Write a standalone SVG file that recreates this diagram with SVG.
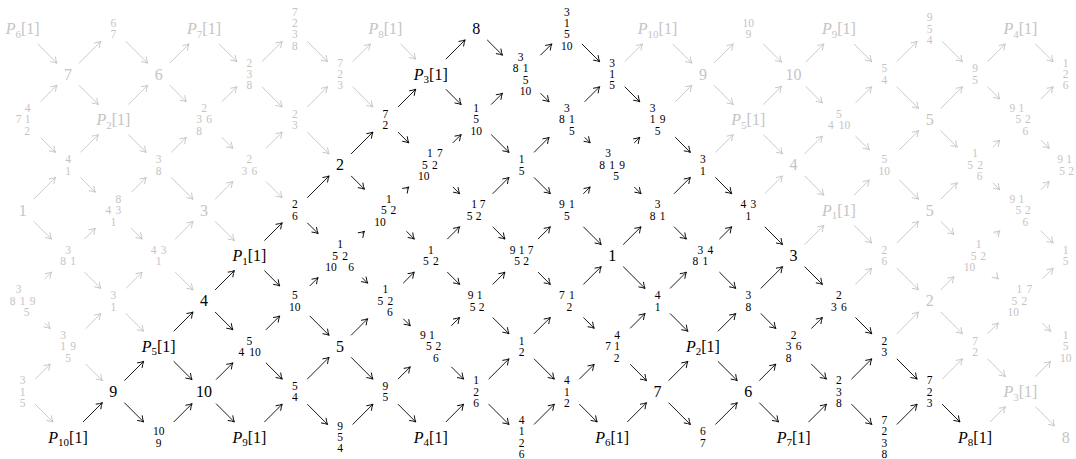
<svg xmlns="http://www.w3.org/2000/svg" width="1076" height="459" viewBox="0 0 1076 459" font-family="'Liberation Serif','DejaVu Serif',serif">
<style>
text{font-family:"Liberation Serif","DejaVu Serif",serif}
.s{font-size:11.5px;text-anchor:middle}
.b{font-size:16px;text-anchor:middle}
.i{font-style:italic}
.u{font-size:11px}
.k{fill:#000}
.g{fill:#c4c4c4}
.ak path{fill:none;stroke:#000;stroke-width:0.9;marker-end:url(#hk)}
.ag path{fill:none;stroke:#c4c4c4;stroke-width:0.9;marker-end:url(#hg)}
</style>
<defs>
<marker id="hk" viewBox="-6 -4 7 8" markerWidth="7" markerHeight="8" refX="0" refY="0" orient="auto" markerUnits="userSpaceOnUse" overflow="visible"><path d="M-5.5,-3.3 Q-2.5,-1 0,0 Q-2.5,1 -5.5,3.3" fill="none" stroke="#000" stroke-width="0.9" stroke-linecap="round"/></marker>
<marker id="hg" viewBox="-6 -4 7 8" markerWidth="7" markerHeight="8" refX="0" refY="0" orient="auto" markerUnits="userSpaceOnUse" overflow="visible"><path d="M-5.5,-3.3 Q-2.5,-1 0,0 Q-2.5,1 -5.5,3.3" fill="none" stroke="#c4c4c4" stroke-width="0.9" stroke-linecap="round"/></marker>
</defs>
<rect width="1076" height="459" fill="#fff"/>
<g id="connectors">
<g class="ag">
<path d="M35.15 379.15l15.1 -15.1"/><path d="M35.15 404.15l17.85 17.85"/><path d="M44.65 278.95l6.85 -6.85"/><path d="M44.65 322.95l5.6 5.6"/><path d="M33.65 199.25l21.85 -21.85"/><path d="M33.65 221.25l17.85 17.85"/><path d="M40.65 101.55l16.35 -16.35"/><path d="M40.65 137.55l14.85 14.85"/><path d="M37.65 43.85l19.35 19.35"/>
<path d="M85.75 328.55l15.1 -15.1"/><path d="M85.75 364.05l16.6 16.6"/><path d="M84.5 239.1l10.85 -10.85"/><path d="M84.5 272.1l16.35 16.35"/><path d="M80.5 152.4l17.85 -17.85"/><path d="M80.5 177.4l14.85 14.85"/><path d="M79 63.2l21.85 -21.85"/><path d="M79 85.2l19.35 19.35"/>
<path d="M125.85 288.45l16.35 -16.35"/><path d="M125.85 313.45l17.85 17.85"/><path d="M131.35 192.25l14.85 -14.85"/><path d="M131.35 228.25l10.85 10.85"/><path d="M128.35 104.55l19.35 -19.35"/><path d="M128.35 134.55l17.85 17.85"/><path d="M125.85 41.35l21.85 21.85"/>
<path d="M175.2 239.1l17.85 -17.85"/><path d="M175.2 272.1l17.85 17.85"/><path d="M171.2 152.4l15.1 -15.1"/><path d="M171.2 177.4l21.85 21.85"/><path d="M169.7 63.2l19.35 -19.35"/><path d="M169.7 85.2l16.6 16.6"/>
<path d="M215.05 199.25l17.85 -17.85"/><path d="M215.05 221.25l19.35 19.35"/><path d="M221.8 101.8l15.1 -15.1"/><path d="M221.8 137.3l11.1 11.1"/><path d="M219.05 43.85l17.85 17.85"/>
<path d="M265.9 148.4l16.35 -16.35"/><path d="M265.9 181.4l16.35 16.35"/><path d="M261.9 61.7l20.35 -20.35"/><path d="M261.9 86.7l20.35 20.35"/>
<path d="M307.25 107.05l20.35 -20.35"/><path d="M307.25 132.05l21.85 21.85"/><path d="M307.25 41.35l20.35 20.35"/>
<path d="M352.6 61.7l17.85 -17.85"/><path d="M352.6 86.7l20.35 20.35"/>
<path d="M400.45 43.85l15.35 15.35"/>
<path d="M624.7 61.7l17.85 -17.85"/>
<path d="M675.3 101.8l16.6 -16.6"/><path d="M672.55 43.85l19.35 19.35"/>
<path d="M715.4 152.4l17.85 -17.85"/><path d="M713.9 63.2l19.35 -19.35"/><path d="M713.9 85.2l19.35 19.35"/>
<path d="M764.75 193.75l17.85 -17.85"/><path d="M763.25 104.55l18.35 -18.35"/><path d="M763.25 134.55l19.35 19.35"/><path d="M763.25 43.85l18.35 18.35"/>
<path d="M804.6 244.6l19.35 -19.35"/><path d="M804.6 153.9l17.85 -17.85"/><path d="M804.6 175.9l19.35 19.35"/><path d="M805.6 62.2l18.35 -18.35"/><path d="M805.6 86.2l16.85 16.85"/>
<path d="M855.45 284.45l16.35 -16.35"/><path d="M853.95 195.25l15.35 -15.35"/><path d="M853.95 225.25l17.85 17.85"/><path d="M855.45 103.05l16.35 -16.35"/><path d="M855.45 136.05l13.85 13.85"/><path d="M853.95 43.85l17.85 17.85"/>
<path d="M896.8 333.8l21.85 -21.85"/><path d="M896.8 243.1l21.85 -21.85"/><path d="M896.8 268.1l21.85 21.85"/><path d="M899.3 149.9l19.35 -19.35"/><path d="M899.3 179.9l19.35 19.35"/><path d="M896.8 61.7l20.35 -20.35"/><path d="M896.8 86.7l21.85 21.85"/>
<path d="M942.15 379.15l20.35 -20.35"/><path d="M940.65 289.95l13.35 -13.35"/><path d="M940.65 311.95l21.85 21.85"/><path d="M940.65 199.25l16.6 -16.6"/><path d="M940.65 221.25l13.35 13.35"/><path d="M940.65 108.55l21.85 -21.85"/><path d="M940.65 130.55l16.6 16.6"/><path d="M942.15 41.35l20.35 20.35"/>
<path d="M990 422l15.35 -15.35"/><path d="M987.5 333.8l10.85 -10.85"/><path d="M987.5 358.8l17.85 17.85"/><path d="M996 234.6l3.85 -3.85"/><path d="M996 276.6l2.35 2.35"/><path d="M992.75 147.15l7.1 -7.1"/><path d="M992.75 182.65l7.1 7.1"/><path d="M987.5 61.7l17.85 -17.85"/><path d="M987.5 86.7l12.35 12.35"/>
<path d="M1035.35 376.65l15.35 -15.35"/><path d="M1035.35 406.65l19.35 19.35"/><path d="M1042.35 278.95l10.85 -10.85"/><path d="M1042.35 322.95l8.35 8.35"/><path d="M1040.85 189.75l8.35 -8.35"/><path d="M1040.85 230.75l12.35 12.35"/><path d="M1040.85 99.05l12.35 -12.35"/><path d="M1040.85 140.05l8.35 8.35"/><path d="M1035.35 43.85l17.85 17.85"/>
</g>
<g class="ak">
<path d="M83 422l19.35 -19.35"/>
<path d="M124.35 380.65l19.35 -19.35"/><path d="M124.35 402.65l19.35 19.35"/>
<path d="M173.7 422l18.35 -18.35"/><path d="M173.7 331.3l19.35 -19.35"/><path d="M173.7 361.3l18.35 18.35"/>
<path d="M216.05 379.65l16.85 -16.85"/><path d="M216.05 403.65l18.35 18.35"/><path d="M215.05 289.95l19.35 -19.35"/><path d="M215.05 311.95l17.85 17.85"/>
<path d="M264.4 422l17.85 -17.85"/><path d="M265.9 329.8l13.85 -13.85"/><path d="M265.9 362.8l16.35 16.35"/><path d="M264.4 240.6l17.85 -17.85"/><path d="M264.4 270.6l15.35 15.35"/>
<path d="M307.25 379.15l21.85 -21.85"/><path d="M307.25 404.15l20.35 20.35"/><path d="M309.75 285.95l8.35 -8.35"/><path d="M309.75 315.95l19.35 19.35"/><path d="M307.25 197.75l21.85 -21.85"/><path d="M307.25 222.75l10.85 10.85"/>
<path d="M352.6 424.5l20.35 -20.35"/><path d="M351.1 335.3l16.6 -16.6"/><path d="M351.1 357.3l21.85 21.85"/><path d="M362.1 233.6l2.35 -2.35"/><path d="M362.1 277.6l5.6 5.6"/><path d="M351.1 153.9l21.85 -21.85"/><path d="M351.1 175.9l13.35 13.35"/>
<path d="M397.95 379.15l12.35 -12.35"/><path d="M397.95 404.15l17.85 17.85"/><path d="M403.2 283.2l11.1 -11.1"/><path d="M403.2 318.7l7.1 7.1"/><path d="M406.45 189.25l2.35 -2.35"/><path d="M406.45 231.25l7.85 7.85"/><path d="M397.95 107.05l17.85 -17.85"/><path d="M397.95 132.05l10.85 10.85"/>
<path d="M445.8 422l17.85 -17.85"/><path d="M451.3 325.8l8.35 -8.35"/><path d="M451.3 366.8l12.35 12.35"/><path d="M447.3 239.1l12.35 -12.35"/><path d="M447.3 272.1l12.35 12.35"/><path d="M452.8 142.9l8.35 -8.35"/><path d="M452.8 186.9l6.85 6.85"/><path d="M445.8 59.2l19.35 -19.35"/><path d="M445.8 89.2l15.35 15.35"/>
<path d="M488.65 379.15l20.35 -20.35"/><path d="M488.65 404.15l20.35 20.35"/><path d="M492.65 284.45l12.35 -12.35"/><path d="M492.65 317.45l16.35 16.35"/><path d="M492.65 193.75l16.35 -16.35"/><path d="M492.65 226.75l12.35 12.35"/><path d="M491.15 104.55l11.35 -11.35"/><path d="M491.15 134.55l17.85 17.85"/><path d="M487.15 39.85l15.35 15.35"/>
<path d="M534 424.5l20.35 -20.35"/><path d="M534 333.8l16.35 -16.35"/><path d="M534 358.8l20.35 20.35"/><path d="M538 239.1l12.35 -12.35"/><path d="M538 272.1l12.35 12.35"/><path d="M534 152.4l15.1 -15.1"/><path d="M534 177.4l16.35 16.35"/><path d="M540.5 55.2l11.35 -11.35"/><path d="M540.5 93.2l8.6 8.6"/>
<path d="M579.35 379.15l14.85 -14.85"/><path d="M579.35 404.15l17.85 17.85"/><path d="M583.35 284.45l17.85 -17.85"/><path d="M583.35 317.45l10.85 10.85"/><path d="M583.35 193.75l6.85 -6.85"/><path d="M583.35 226.75l17.85 17.85"/><path d="M584.6 101.8l15.1 -15.1"/><path d="M584.6 137.3l5.6 5.6"/><path d="M581.85 43.85l17.85 17.85"/>
<path d="M627.2 422l19.35 -19.35"/><path d="M630.2 328.3l14.85 -14.85"/><path d="M630.2 364.3l16.35 16.35"/><path d="M623.2 244.6l17.85 -17.85"/><path d="M623.2 266.6l21.85 21.85"/><path d="M634.2 142.9l5.6 -5.6"/><path d="M634.2 186.9l6.85 6.85"/><path d="M624.7 86.7l15.1 15.1"/>
<path d="M668.55 380.65l19.35 -19.35"/><path d="M668.55 402.65l21.85 21.85"/><path d="M670.05 288.45l16.35 -16.35"/><path d="M670.05 313.45l17.85 17.85"/><path d="M674.05 193.75l16.35 -16.35"/><path d="M674.05 226.75l12.35 12.35"/><path d="M675.3 137.3l15.1 15.1"/>
<path d="M715.4 424.5l21.85 -21.85"/><path d="M717.9 331.3l17.85 -17.85"/><path d="M717.9 361.3l19.35 19.35"/><path d="M719.4 239.1l12.35 -12.35"/><path d="M719.4 272.1l16.35 16.35"/><path d="M715.4 177.4l16.35 16.35"/>
<path d="M759.25 380.65l16.6 -16.6"/><path d="M759.25 402.65l19.35 19.35"/><path d="M760.75 288.45l21.85 -21.85"/><path d="M760.75 313.45l15.1 15.1"/><path d="M764.75 226.75l17.85 17.85"/>
<path d="M808.6 422l17.85 -17.85"/><path d="M811.35 328.55l11.1 -11.1"/><path d="M811.35 364.05l15.1 15.1"/><path d="M804.6 266.6l17.85 17.85"/>
<path d="M851.45 379.15l20.35 -20.35"/><path d="M851.45 404.15l20.35 20.35"/><path d="M855.45 317.45l16.35 16.35"/>
<path d="M896.8 424.5l20.35 -20.35"/><path d="M896.8 358.8l20.35 20.35"/>
<path d="M942.15 404.15l17.85 17.85"/>
</g>
</g>
<!-- row 9 -->
<g id="n-m1-9" class="g" transform="translate(22.65,28.85)"><text class="b" y="5.5"><tspan class="i" font-style="italic">P</tspan><tspan class="u" dy="3.5">6</tspan><tspan dy="-3.5">[1]</tspan></text></g>
<g id="n1-9" class="g" transform="translate(113.35,28.85)"><text class="s"><tspan x="0" y="-1.8">6</tspan><tspan x="0" y="9.6">7</tspan></text></g>
<g id="n3-9" class="g" transform="translate(204.05,28.85)"><text class="b" y="5.5"><tspan class="i" font-style="italic">P</tspan><tspan class="u" dy="3.5">7</tspan><tspan dy="-3.5">[1]</tspan></text></g>
<g id="n5-9" class="g" transform="translate(294.75,28.85)"><text class="s"><tspan x="0" y="-13.2">7</tspan><tspan x="0" y="-1.8">2</tspan><tspan x="0" y="9.6">3</tspan><tspan x="0" y="21">8</tspan></text></g>
<g id="n7-9" class="g" transform="translate(385.45,28.85)"><text class="b" y="5.5"><tspan class="i" font-style="italic">P</tspan><tspan class="u" dy="3.5">8</tspan><tspan dy="-3.5">[1]</tspan></text></g>
<g id="n9-9" class="k" transform="translate(476.15,28.85)"><text class="b" y="5.5">8</text></g>
<g id="n11-9" class="k" transform="translate(566.85,28.85)"><text class="s"><tspan x="0" y="-13.2">3</tspan><tspan x="0" y="-1.8">1</tspan><tspan x="0" y="9.6">5</tspan><tspan x="0" y="21">10</tspan></text></g>
<g id="n13-9" class="g" transform="translate(657.55,28.85)"><text class="b" y="5.5"><tspan class="i" font-style="italic">P</tspan><tspan class="u" dy="3.5">10</tspan><tspan dy="-3.5">[1]</tspan></text></g>
<g id="n15-9" class="g" transform="translate(748.25,28.85)"><text class="s"><tspan x="0" y="-1.8">10</tspan><tspan x="0" y="9.6">9</tspan></text></g>
<g id="n17-9" class="g" transform="translate(838.95,28.85)"><text class="b" y="5.5"><tspan class="i" font-style="italic">P</tspan><tspan class="u" dy="3.5">9</tspan><tspan dy="-3.5">[1]</tspan></text></g>
<g id="n19-9" class="g" transform="translate(929.65,28.85)"><text class="s"><tspan x="0" y="-7.5">9</tspan><tspan x="0" y="3.9">5</tspan><tspan x="0" y="15.3">4</tspan></text></g>
<g id="n21-9" class="g" transform="translate(1020.35,28.85)"><text class="b" y="5.5"><tspan class="i" font-style="italic">P</tspan><tspan class="u" dy="3.5">4</tspan><tspan dy="-3.5">[1]</tspan></text></g>
<!-- row 8 -->
<g id="n0-8" class="g" transform="translate(68,74.2)"><text class="b" y="5.5">7</text></g>
<g id="n2-8" class="g" transform="translate(158.7,74.2)"><text class="b" y="5.5">6</text></g>
<g id="n4-8" class="g" transform="translate(249.4,74.2)"><text class="s"><tspan x="0" y="-7.5">2</tspan><tspan x="0" y="3.9">3</tspan><tspan x="0" y="15.3">8</tspan></text></g>
<g id="n6-8" class="g" transform="translate(340.1,74.2)"><text class="s"><tspan x="0" y="-7.5">7</tspan><tspan x="0" y="3.9">2</tspan><tspan x="0" y="15.3">3</tspan></text></g>
<g id="n8-8" class="k" transform="translate(430.8,74.2)"><text class="b" y="5.5"><tspan class="i" font-style="italic">P</tspan><tspan class="u" dy="3.5">3</tspan><tspan dy="-3.5">[1]</tspan></text></g>
<g id="n10-8" class="k" transform="translate(521.5,74.2)"><text class="s"><tspan x="-1" y="-13.2">3</tspan><tspan x="-6" y="-1.8">8</tspan><tspan x="4" y="-1.8">1</tspan><tspan x="4" y="9.6">5</tspan><tspan x="4" y="21">10</tspan></text></g>
<g id="n12-8" class="k" transform="translate(612.2,74.2)"><text class="s"><tspan x="0" y="-7.5">3</tspan><tspan x="0" y="3.9">1</tspan><tspan x="0" y="15.3">5</tspan></text></g>
<g id="n14-8" class="g" transform="translate(702.9,74.2)"><text class="b" y="5.5">9</text></g>
<g id="n16-8" class="g" transform="translate(793.6,74.2)"><text class="b" y="5.5">10</text></g>
<g id="n18-8" class="g" transform="translate(884.3,74.2)"><text class="s"><tspan x="0" y="-1.8">5</tspan><tspan x="0" y="9.6">4</tspan></text></g>
<g id="n20-8" class="g" transform="translate(975,74.2)"><text class="s"><tspan x="0" y="-1.8">9</tspan><tspan x="0" y="9.6">5</tspan></text></g>
<g id="n22-8" class="g" transform="translate(1065.7,74.2)"><text class="s"><tspan x="0" y="-7.5">1</tspan><tspan x="0" y="3.9">2</tspan><tspan x="0" y="15.3">6</tspan></text></g>
<!-- row 7 -->
<g id="n-m1-7" class="g" transform="translate(22.65,119.55)"><text class="s"><tspan x="5" y="-7.5">4</tspan><tspan x="-4" y="3.9">7</tspan><tspan x="5" y="3.9">1</tspan><tspan x="4.5" y="15.3">2</tspan></text></g>
<g id="n1-7" class="g" transform="translate(113.35,119.55)"><text class="b" y="5.5"><tspan class="i" font-style="italic">P</tspan><tspan class="u" dy="3.5">2</tspan><tspan dy="-3.5">[1]</tspan></text></g>
<g id="n3-7" class="g" transform="translate(204.05,119.55)"><text class="s"><tspan x="0" y="-7.5">2</tspan><tspan x="-5" y="3.9">3</tspan><tspan x="5" y="3.9">6</tspan><tspan x="-5" y="15.3">8</tspan></text></g>
<g id="n5-7" class="g" transform="translate(294.75,119.55)"><text class="s"><tspan x="0" y="-1.8">2</tspan><tspan x="0" y="9.6">3</tspan></text></g>
<g id="n7-7" class="k" transform="translate(385.45,119.55)"><text class="s"><tspan x="0" y="-1.8">7</tspan><tspan x="0" y="9.6">2</tspan></text></g>
<g id="n9-7" class="k" transform="translate(476.15,119.55)"><text class="s"><tspan x="0" y="-7.5">1</tspan><tspan x="0" y="3.9">5</tspan><tspan x="0" y="15.3">10</tspan></text></g>
<g id="n11-7" class="k" transform="translate(566.85,119.55)"><text class="s"><tspan x="0" y="-7.5">3</tspan><tspan x="-5" y="3.9">8</tspan><tspan x="5" y="3.9">1</tspan><tspan x="5" y="15.3">5</tspan></text></g>
<g id="n13-7" class="k" transform="translate(657.55,119.55)"><text class="s"><tspan x="-5" y="-7.5">3</tspan><tspan x="-5" y="3.9">1</tspan><tspan x="5" y="3.9">9</tspan><tspan x="0" y="15.3">5</tspan></text></g>
<g id="n15-7" class="g" transform="translate(748.25,119.55)"><text class="b" y="5.5"><tspan class="i" font-style="italic">P</tspan><tspan class="u" dy="3.5">5</tspan><tspan dy="-3.5">[1]</tspan></text></g>
<g id="n17-7" class="g" transform="translate(838.95,119.55)"><text class="s"><tspan x="0" y="-1.8">5</tspan><tspan x="-8" y="9.6">4</tspan><tspan x="5.5" y="9.6">10</tspan></text></g>
<g id="n19-7" class="g" transform="translate(929.65,119.55)"><text class="b" y="5.5">5</text></g>
<g id="n21-7" class="g" transform="translate(1020.35,119.55)"><text class="s"><tspan x="-8" y="-7.5">9</tspan><tspan x="1" y="-7.5">1</tspan><tspan x="-2" y="3.9">5</tspan><tspan x="7.5" y="3.9">2</tspan><tspan x="5" y="15.3">6</tspan></text></g>
<!-- row 6 -->
<g id="n0-6" class="g" transform="translate(68,164.9)"><text class="s"><tspan x="0" y="-1.8">4</tspan><tspan x="0" y="9.6">1</tspan></text></g>
<g id="n2-6" class="g" transform="translate(158.7,164.9)"><text class="s"><tspan x="0" y="-1.8">3</tspan><tspan x="0" y="9.6">8</tspan></text></g>
<g id="n4-6" class="g" transform="translate(249.4,164.9)"><text class="s"><tspan x="0" y="-1.8">2</tspan><tspan x="-5" y="9.6">3</tspan><tspan x="5" y="9.6">6</tspan></text></g>
<g id="n6-6" class="k" transform="translate(340.1,164.9)"><text class="b" y="5.5">2</text></g>
<g id="n8-6" class="k" transform="translate(430.8,164.9)"><text class="s"><tspan x="-1" y="-7.5">1</tspan><tspan x="9" y="-7.5">7</tspan><tspan x="-6" y="3.9">5</tspan><tspan x="4" y="3.9">2</tspan><tspan x="-7" y="15.3">10</tspan></text></g>
<g id="n10-6" class="k" transform="translate(521.5,164.9)"><text class="s"><tspan x="0" y="-1.8">1</tspan><tspan x="0" y="9.6">5</tspan></text></g>
<g id="n12-6" class="k" transform="translate(612.2,164.9)"><text class="s"><tspan x="-4" y="-7.5">3</tspan><tspan x="-10" y="3.9">8</tspan><tspan x="0" y="3.9">1</tspan><tspan x="10" y="3.9">9</tspan><tspan x="4" y="15.3">5</tspan></text></g>
<g id="n14-6" class="k" transform="translate(702.9,164.9)"><text class="s"><tspan x="0" y="-1.8">3</tspan><tspan x="0" y="9.6">1</tspan></text></g>
<g id="n16-6" class="g" transform="translate(793.6,164.9)"><text class="b" y="5.5">4</text></g>
<g id="n18-6" class="g" transform="translate(884.3,164.9)"><text class="s"><tspan x="0" y="-1.8">5</tspan><tspan x="0" y="9.6">10</tspan></text></g>
<g id="n20-6" class="g" transform="translate(975,164.9)"><text class="s"><tspan x="0" y="-7.5">1</tspan><tspan x="-5" y="3.9">5</tspan><tspan x="5" y="3.9">2</tspan><tspan x="4.5" y="15.3">6</tspan></text></g>
<g id="n22-6" class="g" transform="translate(1065.7,164.9)"><text class="s"><tspan x="-5.5" y="-1.8">9</tspan><tspan x="3.5" y="-1.8">1</tspan><tspan x="-3.5" y="9.6">5</tspan><tspan x="5.5" y="9.6">2</tspan></text></g>
<!-- row 5 -->
<g id="n-m1-5" class="g" transform="translate(22.65,210.25)"><text class="b" y="5.5">1</text></g>
<g id="n1-5" class="g" transform="translate(113.35,210.25)"><text class="s"><tspan x="5" y="-7.5">8</tspan><tspan x="-5" y="3.9">4</tspan><tspan x="5" y="3.9">3</tspan><tspan x="0" y="15.3">1</tspan></text></g>
<g id="n3-5" class="g" transform="translate(204.05,210.25)"><text class="b" y="5.5">3</text></g>
<g id="n5-5" class="k" transform="translate(294.75,210.25)"><text class="s"><tspan x="0" y="-1.8">2</tspan><tspan x="0" y="9.6">6</tspan></text></g>
<g id="n7-5" class="k" transform="translate(385.45,210.25)"><text class="s"><tspan x="3.5" y="-7.5">1</tspan><tspan x="-1.5" y="3.9">5</tspan><tspan x="8" y="3.9">2</tspan><tspan x="-5.5" y="15.3">10</tspan></text></g>
<g id="n9-5" class="k" transform="translate(476.15,210.25)"><text class="s"><tspan x="-2" y="-1.8">1</tspan><tspan x="6.5" y="-1.8">7</tspan><tspan x="-6.5" y="9.6">5</tspan><tspan x="2.5" y="9.6">2</tspan></text></g>
<g id="n11-5" class="k" transform="translate(566.85,210.25)"><text class="s"><tspan x="-5" y="-1.8">9</tspan><tspan x="5" y="-1.8">1</tspan><tspan x="0" y="9.6">5</tspan></text></g>
<g id="n13-5" class="k" transform="translate(657.55,210.25)"><text class="s"><tspan x="0" y="-1.8">3</tspan><tspan x="-5" y="9.6">8</tspan><tspan x="5" y="9.6">1</tspan></text></g>
<g id="n15-5" class="k" transform="translate(748.25,210.25)"><text class="s"><tspan x="-5" y="-1.8">4</tspan><tspan x="5" y="-1.8">3</tspan><tspan x="0" y="9.6">1</tspan></text></g>
<g id="n17-5" class="g" transform="translate(838.95,210.25)"><text class="b" y="5.5"><tspan class="i" font-style="italic">P</tspan><tspan class="u" dy="3.5">1</tspan><tspan dy="-3.5">[1]</tspan></text></g>
<g id="n19-5" class="g" transform="translate(929.65,210.25)"><text class="b" y="5.5">5</text></g>
<g id="n21-5" class="g" transform="translate(1020.35,210.25)"><text class="s"><tspan x="-8" y="-7.5">9</tspan><tspan x="1" y="-7.5">1</tspan><tspan x="-2" y="3.9">5</tspan><tspan x="7.5" y="3.9">2</tspan><tspan x="5" y="15.3">6</tspan></text></g>
<!-- row 4 -->
<g id="n0-4" class="g" transform="translate(68,255.6)"><text class="s"><tspan x="0" y="-1.8">3</tspan><tspan x="-5" y="9.6">8</tspan><tspan x="5" y="9.6">1</tspan></text></g>
<g id="n2-4" class="g" transform="translate(158.7,255.6)"><text class="s"><tspan x="-5" y="-1.8">4</tspan><tspan x="5" y="-1.8">3</tspan><tspan x="0" y="9.6">1</tspan></text></g>
<g id="n4-4" class="k" transform="translate(249.4,255.6)"><text class="b" y="5.5"><tspan class="i" font-style="italic">P</tspan><tspan class="u" dy="3.5">1</tspan><tspan dy="-3.5">[1]</tspan></text></g>
<g id="n6-4" class="k" transform="translate(340.1,255.6)"><text class="s"><tspan x="0" y="-7.5">1</tspan><tspan x="-5" y="3.9">5</tspan><tspan x="5" y="3.9">2</tspan><tspan x="-9" y="15.3">10</tspan><tspan x="11" y="15.3">6</tspan></text></g>
<g id="n8-4" class="k" transform="translate(430.8,255.6)"><text class="s"><tspan x="0" y="-1.8">1</tspan><tspan x="-5" y="9.6">5</tspan><tspan x="5" y="9.6">2</tspan></text></g>
<g id="n10-4" class="k" transform="translate(521.5,255.6)"><text class="s"><tspan x="-9" y="-1.8">9</tspan><tspan x="0" y="-1.8">1</tspan><tspan x="9" y="-1.8">7</tspan><tspan x="-4.5" y="9.6">5</tspan><tspan x="4.5" y="9.6">2</tspan></text></g>
<g id="n12-4" class="k" transform="translate(612.2,255.6)"><text class="b" y="5.5">1</text></g>
<g id="n14-4" class="k" transform="translate(702.9,255.6)"><text class="s"><tspan x="-2.5" y="-1.8">3</tspan><tspan x="7.5" y="-1.8">4</tspan><tspan x="-7.5" y="9.6">8</tspan><tspan x="2.5" y="9.6">1</tspan></text></g>
<g id="n16-4" class="k" transform="translate(793.6,255.6)"><text class="b" y="5.5">3</text></g>
<g id="n18-4" class="g" transform="translate(884.3,255.6)"><text class="s"><tspan x="0" y="-1.8">2</tspan><tspan x="0" y="9.6">6</tspan></text></g>
<g id="n20-4" class="g" transform="translate(975,255.6)"><text class="s"><tspan x="3.5" y="-7.5">1</tspan><tspan x="-1.5" y="3.9">5</tspan><tspan x="8" y="3.9">2</tspan><tspan x="-5.5" y="15.3">10</tspan></text></g>
<g id="n22-4" class="g" transform="translate(1065.7,255.6)"><text class="s"><tspan x="0" y="-1.8">1</tspan><tspan x="0" y="9.6">5</tspan></text></g>
<!-- row 3 -->
<g id="n-m1-3" class="g" transform="translate(22.65,300.95)"><text class="s"><tspan x="-4" y="-7.5">3</tspan><tspan x="-10" y="3.9">8</tspan><tspan x="0" y="3.9">1</tspan><tspan x="10" y="3.9">9</tspan><tspan x="4" y="15.3">5</tspan></text></g>
<g id="n1-3" class="g" transform="translate(113.35,300.95)"><text class="s"><tspan x="0" y="-1.8">3</tspan><tspan x="0" y="9.6">1</tspan></text></g>
<g id="n3-3" class="k" transform="translate(204.05,300.95)"><text class="b" y="5.5">4</text></g>
<g id="n5-3" class="k" transform="translate(294.75,300.95)"><text class="s"><tspan x="0" y="-1.8">5</tspan><tspan x="0" y="9.6">10</tspan></text></g>
<g id="n7-3" class="k" transform="translate(385.45,300.95)"><text class="s"><tspan x="0" y="-7.5">1</tspan><tspan x="-5" y="3.9">5</tspan><tspan x="5" y="3.9">2</tspan><tspan x="4.5" y="15.3">6</tspan></text></g>
<g id="n9-3" class="k" transform="translate(476.15,300.95)"><text class="s"><tspan x="-5.5" y="-1.8">9</tspan><tspan x="3.5" y="-1.8">1</tspan><tspan x="-3.5" y="9.6">5</tspan><tspan x="5.5" y="9.6">2</tspan></text></g>
<g id="n11-3" class="k" transform="translate(566.85,300.95)"><text class="s"><tspan x="-5" y="-1.8">7</tspan><tspan x="5" y="-1.8">1</tspan><tspan x="2.5" y="9.6">2</tspan></text></g>
<g id="n13-3" class="k" transform="translate(657.55,300.95)"><text class="s"><tspan x="0" y="-1.8">4</tspan><tspan x="0" y="9.6">1</tspan></text></g>
<g id="n15-3" class="k" transform="translate(748.25,300.95)"><text class="s"><tspan x="0" y="-1.8">3</tspan><tspan x="0" y="9.6">8</tspan></text></g>
<g id="n17-3" class="k" transform="translate(838.95,300.95)"><text class="s"><tspan x="0" y="-1.8">2</tspan><tspan x="-5" y="9.6">3</tspan><tspan x="5" y="9.6">6</tspan></text></g>
<g id="n19-3" class="g" transform="translate(929.65,300.95)"><text class="b" y="5.5">2</text></g>
<g id="n21-3" class="g" transform="translate(1020.35,300.95)"><text class="s"><tspan x="-1" y="-7.5">1</tspan><tspan x="9" y="-7.5">7</tspan><tspan x="-6" y="3.9">5</tspan><tspan x="4" y="3.9">2</tspan><tspan x="-7" y="15.3">10</tspan></text></g>
<!-- row 2 -->
<g id="n0-2" class="g" transform="translate(68,346.3)"><text class="s"><tspan x="-5" y="-7.5">3</tspan><tspan x="-5" y="3.9">1</tspan><tspan x="5" y="3.9">9</tspan><tspan x="0" y="15.3">5</tspan></text></g>
<g id="n2-2" class="k" transform="translate(158.7,346.3)"><text class="b" y="5.5"><tspan class="i" font-style="italic">P</tspan><tspan class="u" dy="3.5">5</tspan><tspan dy="-3.5">[1]</tspan></text></g>
<g id="n4-2" class="k" transform="translate(249.4,346.3)"><text class="s"><tspan x="0" y="-1.8">5</tspan><tspan x="-8" y="9.6">4</tspan><tspan x="5.5" y="9.6">10</tspan></text></g>
<g id="n6-2" class="k" transform="translate(340.1,346.3)"><text class="b" y="5.5">5</text></g>
<g id="n8-2" class="k" transform="translate(430.8,346.3)"><text class="s"><tspan x="-8" y="-7.5">9</tspan><tspan x="1" y="-7.5">1</tspan><tspan x="-2" y="3.9">5</tspan><tspan x="7.5" y="3.9">2</tspan><tspan x="5" y="15.3">6</tspan></text></g>
<g id="n10-2" class="k" transform="translate(521.5,346.3)"><text class="s"><tspan x="0" y="-1.8">1</tspan><tspan x="0" y="9.6">2</tspan></text></g>
<g id="n12-2" class="k" transform="translate(612.2,346.3)"><text class="s"><tspan x="5" y="-7.5">4</tspan><tspan x="-4" y="3.9">7</tspan><tspan x="5" y="3.9">1</tspan><tspan x="4.5" y="15.3">2</tspan></text></g>
<g id="n14-2" class="k" transform="translate(702.9,346.3)"><text class="b" y="5.5"><tspan class="i" font-style="italic">P</tspan><tspan class="u" dy="3.5">2</tspan><tspan dy="-3.5">[1]</tspan></text></g>
<g id="n16-2" class="k" transform="translate(793.6,346.3)"><text class="s"><tspan x="0" y="-7.5">2</tspan><tspan x="-5" y="3.9">3</tspan><tspan x="5" y="3.9">6</tspan><tspan x="-5" y="15.3">8</tspan></text></g>
<g id="n18-2" class="k" transform="translate(884.3,346.3)"><text class="s"><tspan x="0" y="-1.8">2</tspan><tspan x="0" y="9.6">3</tspan></text></g>
<g id="n20-2" class="g" transform="translate(975,346.3)"><text class="s"><tspan x="0" y="-1.8">7</tspan><tspan x="0" y="9.6">2</tspan></text></g>
<g id="n22-2" class="g" transform="translate(1065.7,346.3)"><text class="s"><tspan x="0" y="-7.5">1</tspan><tspan x="0" y="3.9">5</tspan><tspan x="0" y="15.3">10</tspan></text></g>
<!-- row 1 -->
<g id="n-m1-1" class="g" transform="translate(22.65,391.65)"><text class="s"><tspan x="0" y="-7.5">3</tspan><tspan x="0" y="3.9">1</tspan><tspan x="0" y="15.3">5</tspan></text></g>
<g id="n1-1" class="k" transform="translate(113.35,391.65)"><text class="b" y="5.5">9</text></g>
<g id="n3-1" class="k" transform="translate(204.05,391.65)"><text class="b" y="5.5">10</text></g>
<g id="n5-1" class="k" transform="translate(294.75,391.65)"><text class="s"><tspan x="0" y="-1.8">5</tspan><tspan x="0" y="9.6">4</tspan></text></g>
<g id="n7-1" class="k" transform="translate(385.45,391.65)"><text class="s"><tspan x="0" y="-1.8">9</tspan><tspan x="0" y="9.6">5</tspan></text></g>
<g id="n9-1" class="k" transform="translate(476.15,391.65)"><text class="s"><tspan x="0" y="-7.5">1</tspan><tspan x="0" y="3.9">2</tspan><tspan x="0" y="15.3">6</tspan></text></g>
<g id="n11-1" class="k" transform="translate(566.85,391.65)"><text class="s"><tspan x="0" y="-7.5">4</tspan><tspan x="0" y="3.9">1</tspan><tspan x="0" y="15.3">2</tspan></text></g>
<g id="n13-1" class="k" transform="translate(657.55,391.65)"><text class="b" y="5.5">7</text></g>
<g id="n15-1" class="k" transform="translate(748.25,391.65)"><text class="b" y="5.5">6</text></g>
<g id="n17-1" class="k" transform="translate(838.95,391.65)"><text class="s"><tspan x="0" y="-7.5">2</tspan><tspan x="0" y="3.9">3</tspan><tspan x="0" y="15.3">8</tspan></text></g>
<g id="n19-1" class="k" transform="translate(929.65,391.65)"><text class="s"><tspan x="0" y="-7.5">7</tspan><tspan x="0" y="3.9">2</tspan><tspan x="0" y="15.3">3</tspan></text></g>
<g id="n21-1" class="g" transform="translate(1020.35,391.65)"><text class="b" y="5.5"><tspan class="i" font-style="italic">P</tspan><tspan class="u" dy="3.5">3</tspan><tspan dy="-3.5">[1]</tspan></text></g>
<!-- row 0 -->
<g id="n0-0" class="k" transform="translate(68,437)"><text class="b" y="5.5"><tspan class="i" font-style="italic">P</tspan><tspan class="u" dy="3.5">10</tspan><tspan dy="-3.5">[1]</tspan></text></g>
<g id="n2-0" class="k" transform="translate(158.7,437)"><text class="s"><tspan x="0" y="-1.8">10</tspan><tspan x="0" y="9.6">9</tspan></text></g>
<g id="n4-0" class="k" transform="translate(249.4,437)"><text class="b" y="5.5"><tspan class="i" font-style="italic">P</tspan><tspan class="u" dy="3.5">9</tspan><tspan dy="-3.5">[1]</tspan></text></g>
<g id="n6-0" class="k" transform="translate(340.1,437)"><text class="s"><tspan x="0" y="-7.5">9</tspan><tspan x="0" y="3.9">5</tspan><tspan x="0" y="15.3">4</tspan></text></g>
<g id="n8-0" class="k" transform="translate(430.8,437)"><text class="b" y="5.5"><tspan class="i" font-style="italic">P</tspan><tspan class="u" dy="3.5">4</tspan><tspan dy="-3.5">[1]</tspan></text></g>
<g id="n10-0" class="k" transform="translate(521.5,437)"><text class="s"><tspan x="0" y="-13.2">4</tspan><tspan x="0" y="-1.8">1</tspan><tspan x="0" y="9.6">2</tspan><tspan x="0" y="21">6</tspan></text></g>
<g id="n12-0" class="k" transform="translate(612.2,437)"><text class="b" y="5.5"><tspan class="i" font-style="italic">P</tspan><tspan class="u" dy="3.5">6</tspan><tspan dy="-3.5">[1]</tspan></text></g>
<g id="n14-0" class="k" transform="translate(702.9,437)"><text class="s"><tspan x="0" y="-1.8">6</tspan><tspan x="0" y="9.6">7</tspan></text></g>
<g id="n16-0" class="k" transform="translate(793.6,437)"><text class="b" y="5.5"><tspan class="i" font-style="italic">P</tspan><tspan class="u" dy="3.5">7</tspan><tspan dy="-3.5">[1]</tspan></text></g>
<g id="n18-0" class="k" transform="translate(884.3,437)"><text class="s"><tspan x="0" y="-13.2">7</tspan><tspan x="0" y="-1.8">2</tspan><tspan x="0" y="9.6">3</tspan><tspan x="0" y="21">8</tspan></text></g>
<g id="n20-0" class="k" transform="translate(975,437)"><text class="b" y="5.5"><tspan class="i" font-style="italic">P</tspan><tspan class="u" dy="3.5">8</tspan><tspan dy="-3.5">[1]</tspan></text></g>
<g id="n22-0" class="g" transform="translate(1065.7,437)"><text class="b" y="5.5">8</text></g>
</svg>
